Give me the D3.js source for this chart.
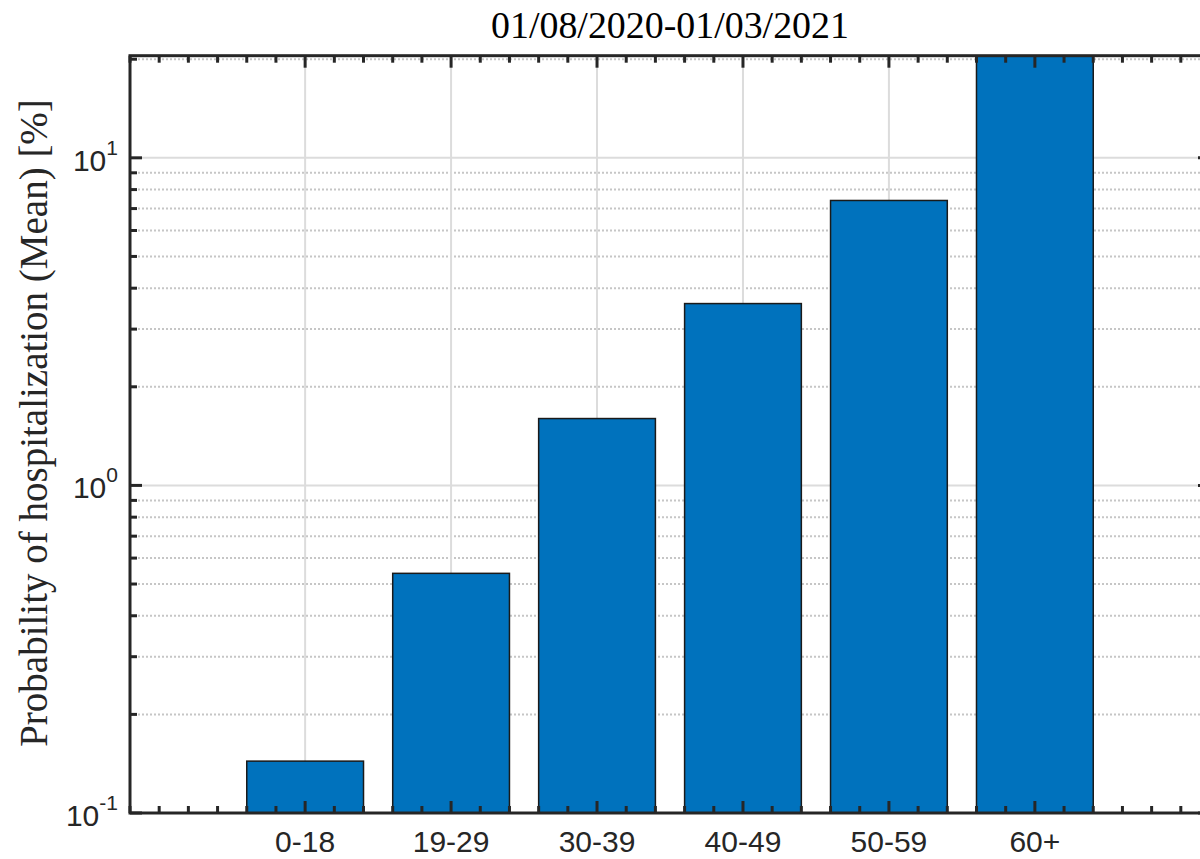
<!DOCTYPE html>
<html>
<head>
<script src="https://cdnjs.cloudflare.com/ajax/libs/d3/7.8.5/d3.min.js"></script>
<style>
  body { margin: 0; background: #fff; }
</style>
</head>
<body>
<div id="chart"></div>
<script>
  // data
  var categories = ["0-18", "19-29", "30-39", "40-49", "50-59", "60+"];
  var hospMean = [0.144, 0.539, 1.60, 3.59, 7.41, 24];
  var yMajorTicks = [0.1, 1, 10];
  var yTickExp = ["-1", "0", "1"];
  var xLimits = [-0.2, 7.2];
  var yLimits = [0.1, 20.5];
  var titleText = "01/08/2020-01/03/2021";
  var yLabelText = "Probability of hospitalization (Mean) [%]";

  var W = 1200, H = 859;
  var pl = 130, pr = 1210, pt = 55.7, pb = 813;

  var svg = d3.select("#chart").append("svg")
    .attr("width", W).attr("height", H);

  var x = d3.scaleLinear().domain(xLimits).range([pl, pr]);
  var y = d3.scaleLog().domain(yLimits).range([pb, pt]);

  var yMinor = y.ticks().filter(function(d) {
    return yMajorTicks.indexOf(d) < 0 && d > yLimits[0] && d < yLimits[1];
  });
  var xMinor = d3.range(0, 37).map(function(i) { return +(xLimits[0] + i * 0.2).toFixed(2); });
  var xMajor = categories.map(function(c, i) { return i + 1; });

  svg.append("defs").append("clipPath").attr("id", "plotclip")
    .append("rect").attr("x", pl).attr("y", pt).attr("width", pr - pl).attr("height", pb - pt);

  var grid = svg.append("g");
  // minor dotted horizontal grid
  grid.selectAll(".ymg").data(yMinor).enter().append("line")
    .attr("x1", pl).attr("x2", pr)
    .attr("y1", function(d) { return y(d); }).attr("y2", function(d) { return y(d); })
    .attr("stroke", "#c6c6c6").attr("stroke-width", 2).attr("stroke-dasharray", "2,2");
  // major grid
  grid.selectAll(".yg").data(yMajorTicks.slice(1)).enter().append("line")
    .attr("x1", pl).attr("x2", pr)
    .attr("y1", function(d) { return y(d); }).attr("y2", function(d) { return y(d); })
    .attr("stroke", "#dcdcdc").attr("stroke-width", 2);
  grid.selectAll(".xg").data(xMajor).enter().append("line")
    .attr("x1", function(d) { return x(d); }).attr("x2", function(d) { return x(d); })
    .attr("y1", pt).attr("y2", pb)
    .attr("stroke", "#dcdcdc").attr("stroke-width", 2);

  // bars
  var bw = x(0.8) - x(0);
  svg.append("g").attr("clip-path", "url(#plotclip)")
    .selectAll("rect").data(hospMean).enter().append("rect")
    .attr("x", function(d, i) { return x(i + 1) - bw / 2; })
    .attr("width", bw)
    .attr("y", function(d) { return y(d); })
    .attr("height", function(d) { return pb - y(d); })
    .attr("fill", "#0072bd")
    .attr("stroke", "#1a1a1a").attr("stroke-width", 1.5);

  // axes box with inward ticks
  var ax = svg.append("g").attr("stroke", "#262626").attr("stroke-width", 3);
  ax.append("rect").attr("x", pl).attr("y", pt).attr("width", pr - pl).attr("height", pb - pt)
    .attr("fill", "none");

  function xtick(d, len) {
    ax.append("line").attr("x1", x(d)).attr("x2", x(d)).attr("y1", pb).attr("y2", pb - len);
    ax.append("line").attr("x1", x(d)).attr("x2", x(d)).attr("y1", pt).attr("y2", pt + len);
  }
  xMinor.forEach(function(d) { if (xMajor.indexOf(d) < 0) xtick(d, 7); });
  xMajor.forEach(function(d) { xtick(d, 12); });

  function ytick(d, len) {
    ax.append("line").attr("x1", pl).attr("x2", pl + len).attr("y1", y(d)).attr("y2", y(d));
    ax.append("line").attr("x1", pr).attr("x2", pr - len).attr("y1", y(d)).attr("y2", y(d));
  }
  yMinor.forEach(function(d) { ytick(d, 7); });
  yMajorTicks.forEach(function(d) { ytick(d, 12); });

  // x tick labels
  svg.selectAll(".xl").data(categories).enter().append("text")
    .attr("x", function(d, i) { return x(i + 1); })
    .attr("y", 852)
    .attr("text-anchor", "middle")
    .attr("font-family", "Liberation Sans, Arial, sans-serif")
    .attr("font-size", 30).attr("fill", "#262626")
    .text(function(d) { return d; });

  // y tick labels 10^k
  yMajorTicks.forEach(function(d, i) {
    var t = svg.append("text")
      .attr("x", 118).attr("y", y(d) + 13)
      .attr("text-anchor", "end")
      .attr("font-family", "Liberation Sans, Arial, sans-serif")
      .attr("fill", "#262626");
    t.append("tspan").attr("font-size", 30).text("10");
    t.append("tspan").attr("font-size", 21).attr("dy", -16).text(yTickExp[i]);
  });

  // title
  var title = svg.append("text")
    .attr("x", (pl + pr) / 2).attr("y", 38)
    .attr("text-anchor", "middle")
    .attr("font-family", "Liberation Serif, Times New Roman, serif")
    .attr("font-size", 34).attr("fill", "#000")
    .text(titleText);
  var tw = title.node().getComputedTextLength();
  title.attr("font-size", 34 * 358 / tw);

  // y label
  var yl = svg.append("text")
    .attr("transform", "translate(47," + 423 + ") rotate(-90)")
    .attr("text-anchor", "middle")
    .attr("font-family", "Liberation Serif, Times New Roman, serif")
    .attr("font-size", 30).attr("fill", "#262626")
    .text(yLabelText);
  var lw = yl.node().getComputedTextLength();
  yl.attr("font-size", 30 * 648 / lw);
</script>
</body>
</html>
